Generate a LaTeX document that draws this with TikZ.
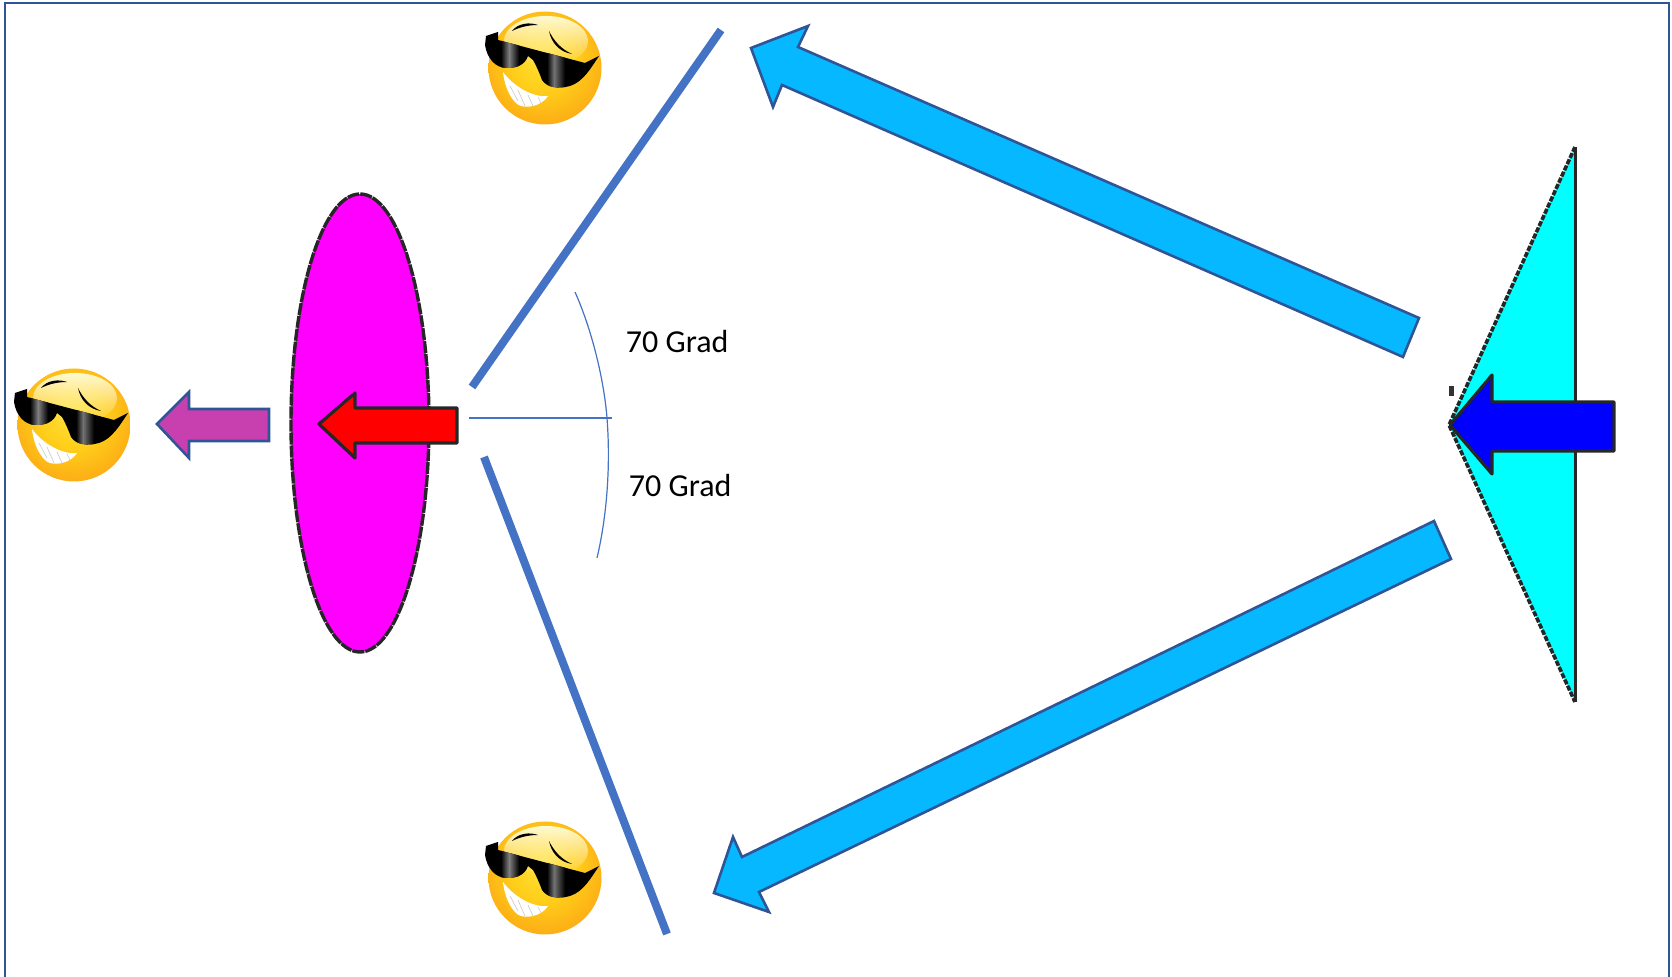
\documentclass[tikz,border=0pt]{standalone}
\usepackage{fontspec}
\setmainfont{Carlito}
\usetikzlibrary{fadings}
\definecolor{frameblue}{HTML}{2F5597}
\definecolor{lineblue}{HTML}{4472C4}
\definecolor{skyfill}{HTML}{05B8FF}
\definecolor{plum}{HTML}{C83FB0}
\definecolor{puremag}{RGB}{255,0,255}
\definecolor{purecyan}{RGB}{0,255,255}
\definecolor{purered}{RGB}{255,0,0}
\definecolor{pureblue}{RGB}{0,0,255}
\definecolor{face0}{HTML}{FFE23C}
\definecolor{face1}{HTML}{FFCF1A}
\definecolor{face2}{HTML}{FDB216}
\definecolor{face3}{HTML}{F99A1C}
\definecolor{face4}{HTML}{F0881C}
\definecolor{paleface}{HTML}{FFFBD2}
\pgfdeclareradialshading{facegrad}{\pgfpoint{-1bp}{6bp}}{
  color(0bp)=(face0);
  color(14bp)=(face1);
  color(26bp)=(face2);
  color(38bp)=(face3);
  color(54bp)=(face4)}
\tikzset{
  bigarrow/.style={fill=skyfill,draw=frameblue,line width=1.3pt,line join=miter},
  darkarrow/.style={draw=black!85,line width=1.6pt,line join=round},
  heavy/.style={draw=lineblue,line width=4pt},
  thin blue/.style={draw=lineblue,line width=0.6pt},
  label text/.style={anchor=base west,inner sep=0pt,font=\fontsize{16pt}{18pt}\selectfont,text=black},
  smiley/.pic={
    \shade[shading=facegrad] (0,0) circle [radius=56.5];
    \fill[paleface,path fading=south] (1,-27) ellipse [x radius=42,y radius=25];
    % smile
    \fill[white] (-42,4) .. controls (-32,18) and (-12,30) .. (3,28)
        .. controls (-3,38) and (-20,42) .. (-28,36) .. controls (-37,28) and (-41,14) .. (-42,4) -- cycle;
    \draw[black!22,line width=0.3pt] (-35,18) -- (-27,33) (-27,22) -- (-20,38) (-17,27) -- (-12,38) (-7,29) -- (-4,35);
    % sunglasses
    \begin{scope}
    \path[clip] (-59,-32) -- (-47,-36) -- (-47,-28) -- (40,-5) -- (54,-12)
      .. controls (46,0) and (38,14) .. (25,18)
      .. controls (14,21) and (2,20) .. (-3,12)
      .. controls (-6,4) and (-9,-3) .. (-12,-8)
      -- (-17,-12)
      .. controls (-20,-3) and (-28,0) .. (-38,0)
      .. controls (-50,0) and (-58,-10) .. (-60,-23) -- cycle;
    \fill[black] (-62,-38) rectangle (56,22);
    \shade[left color=black,right color=black!50] (-44,-32) rectangle (-36,4);
    \shade[left color=black!50,right color=black] (-36,-32) rectangle (-26,4);
    \shade[left color=black,right color=black!55] (2,-18) rectangle (9,24);
    \shade[left color=black!55,right color=black] (9,-18) rectangle (20,24);
    \end{scope}
    % eyebrows
    \fill[black] (-33,-37) .. controls (-27,-45) and (-15,-46) .. (-7,-43)
       .. controls (-16,-43) and (-25,-41) .. (-33,-37) -- cycle;
    \fill[black] (4,-37) .. controls (6,-26) and (14,-16) .. (27,-14)
       .. controls (16,-19) and (9,-27) .. (4,-37) -- cycle;
  }
}
\begin{document}
\begin{tikzpicture}[x=0.5pt,y=-0.5pt]
\useasboundingbox (0,0) rectangle (1672,977);
% frame
\draw[frameblue,line width=1.3pt] (5,1033) -- (5,3) -- (1669,3) -- (1669,1033);
% magenta ellipse
\fill[puremag,draw=black!85,line width=1.7pt,dash pattern=on 6pt off 0.5pt] (360,423) ellipse [x radius=69,y radius=229];
% cyan triangle
\fill[purecyan] (1449,425) -- (1575,147) -- (1575,702) -- cycle;
\draw[black!85,line width=1.8pt,dash pattern=on 2.6pt off 0.8pt] (1575,147) -- (1449,425) -- (1575,702);
\draw[black!85,line width=1.5pt] (1575,147) -- (1575,702);
\fill[black!80] (1449,386) rectangle (1454,396);
% emojis
\pic at (545,68) {smiley};
\pic at (74,425) {smiley};
\pic at (545,878) {smiley};
% heavy lines
\draw[heavy] (472,387) -- (721,30);
\draw[heavy] (484,457) -- (667,934);
% thin
\draw[thin blue] (469,418) -- (612,418);
\draw[thin blue] (575,292) .. controls (592,330) and (604,380) .. (607,418)
   .. controls (611,470) and (606,520) .. (597,558);
% big arrows
\draw[bigarrow] (751,48) -- (808,26) -- (798,47) -- (1419,318) -- (1403,357) -- (782,85) -- (773,107) -- cycle;
\draw[bigarrow] (714,893) -- (733,837) -- (742,857) -- (1434,521) -- (1451,559) -- (759,892) -- (769,912) -- cycle;
% small arrows
\draw[fill=plum,draw=frameblue,line width=1.3pt,line join=miter] (157,424) -- (189,392) -- (189,409) -- (269,409) -- (269,441) -- (189,441) -- (189,458) -- cycle;
\draw[darkarrow,fill=purered] (319,424) -- (355,393) -- (355,408) -- (457,408) -- (457,443) -- (355,443) -- (355,458) -- cycle;
\draw[darkarrow,fill=pureblue] (1450,425) -- (1492,375) -- (1492,402) -- (1614,402) -- (1614,451) -- (1492,451) -- (1492,474) -- cycle;
% labels
\node[label text] (upper) at (625.5,353) {70 Grad};
\node[label text] (lower) at (628.5,497) {70 Grad};
\end{tikzpicture}
\end{document}
